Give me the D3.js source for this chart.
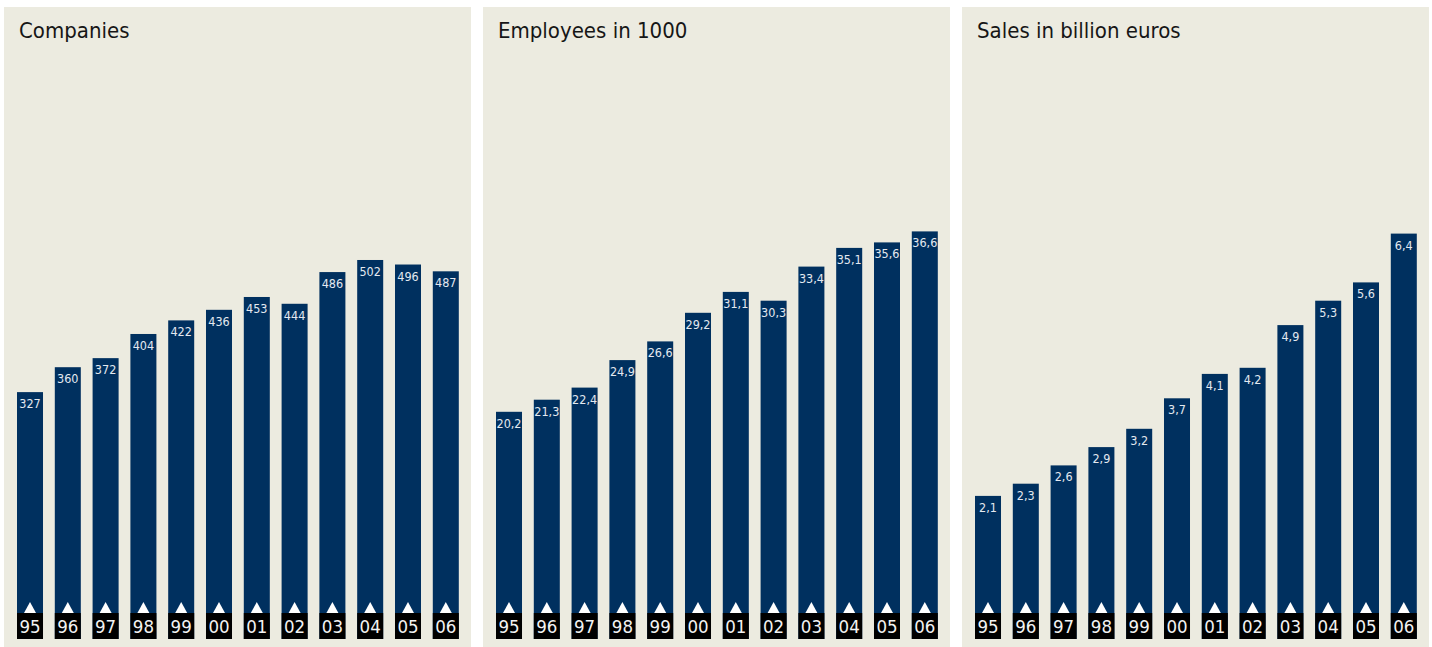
<!DOCTYPE html>
<html>
<head>
<meta charset="utf-8">
<script src="https://cdn.jsdelivr.net/npm/d3@7"></script>
<style>
  body { margin: 0; background: #fff; }
  svg { display: block; }
  .title { font-family: "DejaVu Sans Condensed", "DejaVu Sans", sans-serif; font-size: 22px; fill: #161616; }
  .val { font-family: "DejaVu Sans Condensed", "DejaVu Sans", sans-serif; font-size: 12.5px; fill: #e4e9f0; text-anchor: middle; }
  .year { font-family: "DejaVu Sans Condensed", "DejaVu Sans", sans-serif; font-size: 18.5px; fill: #f2f2f2; text-anchor: middle; }
</style>
</head>
<body>
<div id="chart"></div>
<script>
// data
const years = ['95', '96', '97', '98', '99', '00', '01', '02', '03', '04', '05', '06'];
const companies = [327, 360, 372, 404, 422, 436, 453, 444, 486, 502, 496, 487];
const employees = [20.2, 21.3, 22.4, 24.9, 26.6, 29.2, 31.1, 30.3, 33.4, 35.1, 35.6, 36.6];
const sales = [2.1, 2.3, 2.6, 2.9, 3.2, 3.7, 4.1, 4.2, 4.9, 5.3, 5.6, 6.4];
const titles = ['Companies', 'Employees in 1000', 'Sales in billion euros'];

const fmt = d3.format('.1f');
const panels = [
    { title: titles[0], values: companies, base: 639, perUnit: 0.755, label: d => d },
    { title: titles[1], values: employees, base: 634, perUnit: 11.0, label: d => fmt(d).replace('.', ',') },
    { title: titles[2], values: sales, base: 624, perUnit: 61, label: d => fmt(d).replace('.', ',') }
];

const width = 1432;
const height = 647;
const panelW = 467;
const panelTop = 7;
const panelX = [4, 483, 962];

const svg = d3.select('#chart')
    .append('svg')
    .attr('width', width)
    .attr('height', height);

svg.append('rect')
    .attr('width', width)
    .attr('height', height)
    .attr('fill', '#fff');

panels.forEach((p, k) => {
    const g = svg.append('g')
        .attr('transform', `translate(${panelX[k]},0)`);

    g.append('rect')
        .attr('x', 0)
        .attr('y', panelTop)
        .attr('width', panelW)
        .attr('height', height - panelTop)
        .attr('fill', '#ecebe0');

    g.append('text')
        .attr('class', 'title')
        .attr('x', 15)
        .attr('y', 38)
        .text(p.title);

    const x = d3.scaleBand()
        .domain(years)
        .range([13, 454.8])
        .paddingInner(0.312);

    // top of the panel corresponds to this value
    const topVal = (p.base - panelTop) / p.perUnit;
    const y = d3.scaleLinear()
        .domain([0, topVal])
        .range([p.base, panelTop]);

    const rows = years.map((yr, i) => ({ year: yr, value: p.values[i] }));
    const bw = x.bandwidth();

    g.selectAll('.bar')
        .data(rows)
        .enter()
        .append('rect')
        .classed('bar', true)
        .attr('x', d => x(d.year))
        .attr('y', d => y(d.value))
        .attr('width', bw)
        .attr('height', d => 639 - y(d.value))
        .attr('fill', '#00305f');

    g.selectAll('.val')
        .data(rows)
        .enter()
        .append('text')
        .attr('class', 'val')
        .attr('x', d => x(d.year) + bw / 2)
        .attr('y', d => y(d.value) + 16)
        .text(d => p.label(d.value));

    g.selectAll('.tri')
        .data(rows)
        .enter()
        .append('path')
        .attr('d', d => {
            const cx = x(d.year) + bw / 2;
            return `M${cx - 6},613L${cx + 6},613L${cx},602Z`;
        })
        .attr('fill', '#fff');

    g.selectAll('.ybox')
        .data(rows)
        .enter()
        .append('rect')
        .attr('x', d => x(d.year))
        .attr('y', 613)
        .attr('width', bw)
        .attr('height', 26)
        .attr('fill', '#000');

    g.selectAll('.year')
        .data(rows)
        .enter()
        .append('text')
        .attr('class', 'year')
        .attr('x', d => x(d.year) + bw / 2)
        .attr('y', 633)
        .text(d => d.year);
});
</script>
</body>
</html>
